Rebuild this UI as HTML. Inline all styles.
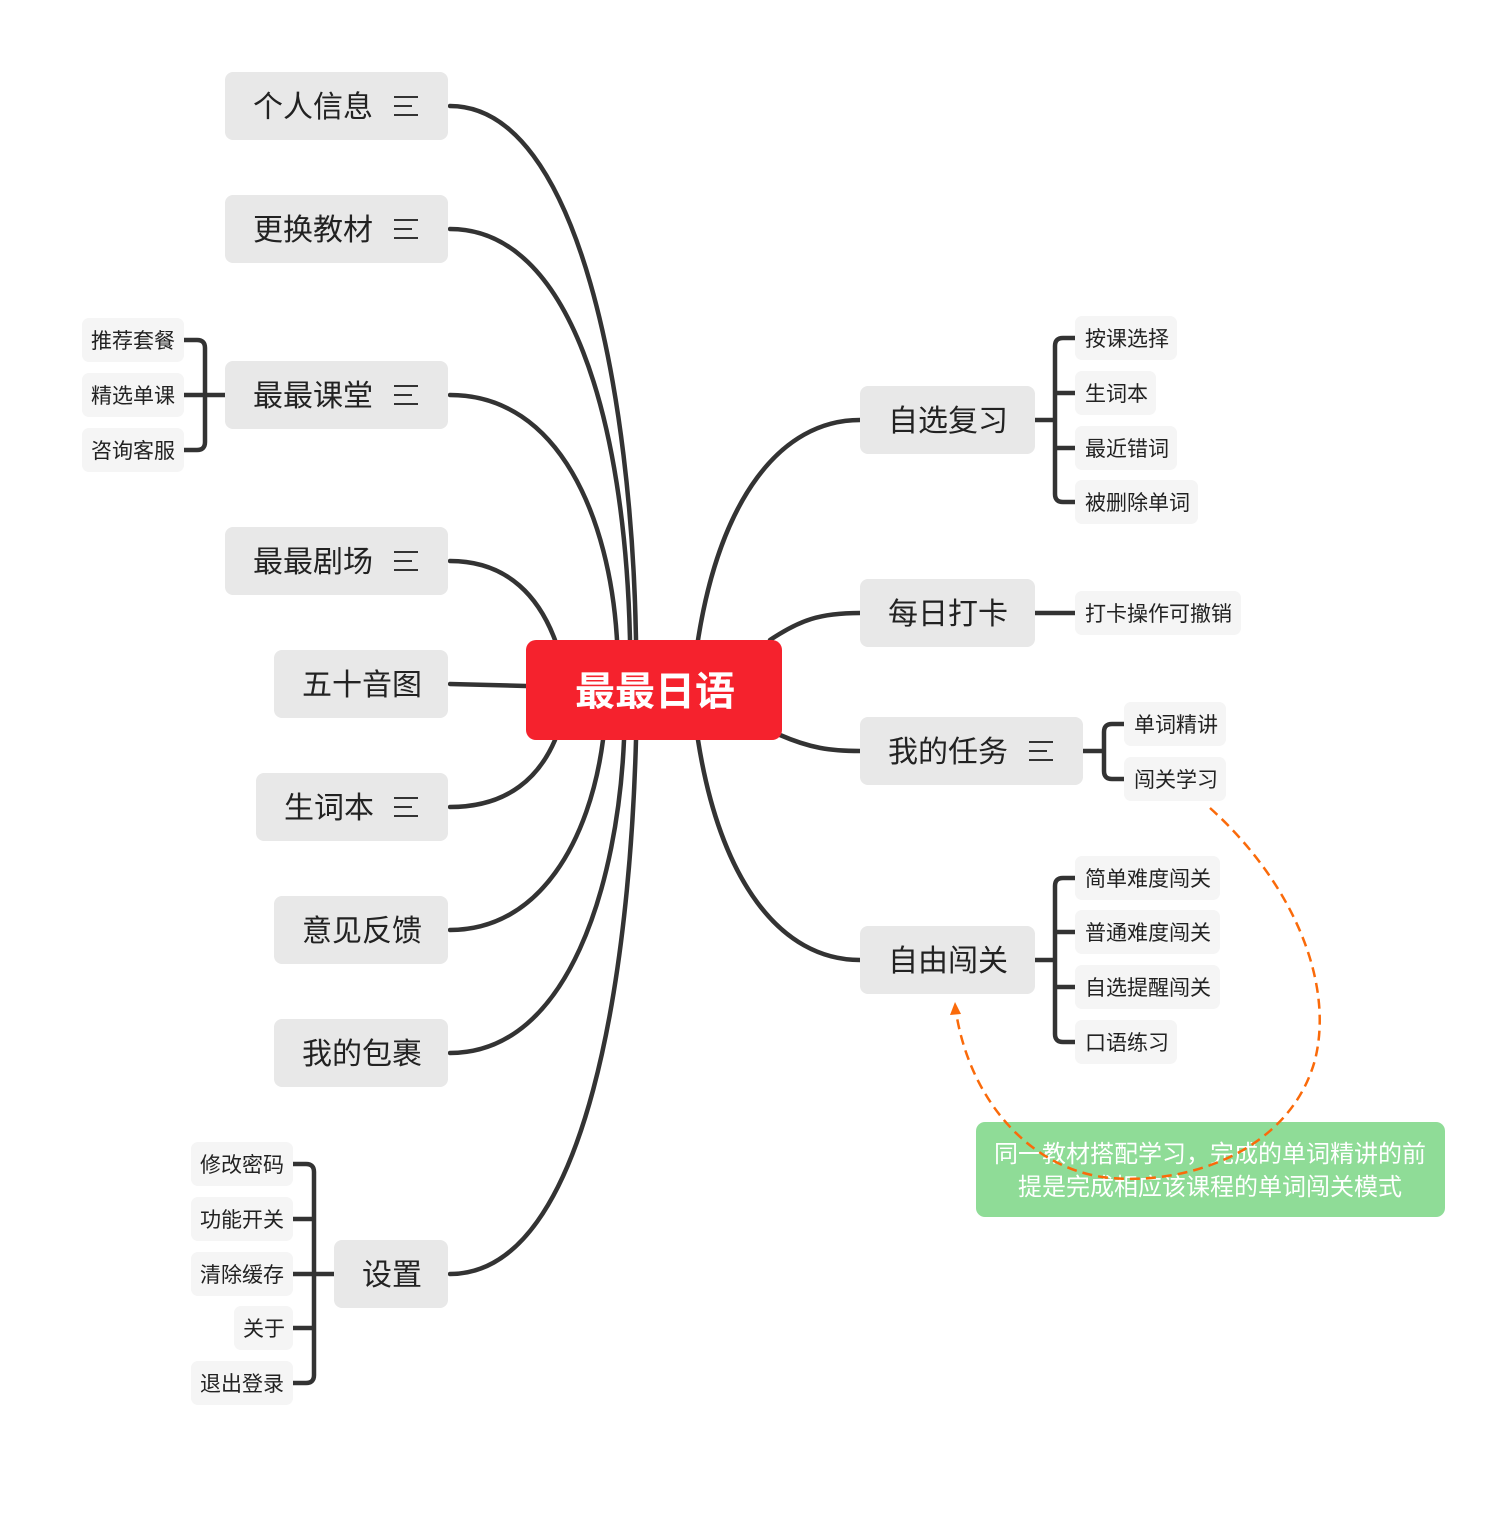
<!DOCTYPE html>
<html><head><meta charset="utf-8"><style>
html,body{margin:0;padding:0;background:#fff;}
svg text{font-family:"Liberation Sans","Noto Sans CJK SC",sans-serif;}
</style></head><body>
<svg width="1498" height="1510" viewBox="0 0 1498 1510" xmlns="http://www.w3.org/2000/svg">
<g fill="none" stroke="#333" stroke-width="4.5" stroke-linecap="round">
<path d="M450,106 C580,106 632,400 636,640"/>
<path d="M450,229 C570,229 625,420 630,640"/>
<path d="M450,395 C560,395 610,520 617,640"/>
<path d="M450,561 C510,561 540,600 555,640"/>
<path d="M450,684 L526,686"/>
<path d="M450,807 C510,807 540,775 555,740"/>
<path d="M450,930 C540,930 590,840 603,740"/>
<path d="M450,1053 C570,1053 618,880 624,740"/>
<path d="M450,1274 C590,1274 630,960 636,740"/>
<path d="M698,640 C720,500 780,420 860,420"/>
<path d="M770,640 C800,620 820,613 860,613"/>
<path d="M780,735 C810,748 830,751 860,751"/>
<path d="M698,740 C720,880 780,960 860,960"/>
<path d="M1035,420 L1055,420 M1075,338 L1063,338 Q1055,338 1055,346 L1055,494 Q1055,502 1063,502 L1075,502 M1055,393 L1075,393 M1055,448 L1075,448"/>
<path d="M1035,613 L1075,613"/>
<path d="M1083,751 L1104,751 M1124,724 L1112,724 Q1104,724 1104,732 L1104,771 Q1104,779 1112,779 L1124,779"/>
<path d="M1035,960 L1055,960 M1075,878 L1063,878 Q1055,878 1055,886 L1055,1034 Q1055,1042 1063,1042 L1075,1042 M1055,932 L1075,932 M1055,987 L1075,987"/>
<path d="M225,395 L205,395 M184,340 L197,340 Q205,340 205,348 L205,442 Q205,450 197,450 L184,450 M205,395 L184,395"/>
<path d="M334,1274 L314,1274 M293,1164 L306,1164 Q314,1164 314,1172 L314,1375 Q314,1383 306,1383 L293,1383 M314,1219 L293,1219 M314,1274 L293,1274 M314,1328 L293,1328"/>
</g>
<rect x="526" y="640" width="256" height="100" rx="10" fill="#f5222d"/>
<text x="655" y="705" font-size="40" font-weight="bold" fill="#fff" text-anchor="middle">最最日语</text>
<g fill="#e8e8e8">
<rect x="225" y="72" width="223" height="68" rx="8"/>
<rect x="225" y="195" width="223" height="68" rx="8"/>
<rect x="225" y="361" width="223" height="68" rx="8"/>
<rect x="225" y="527" width="223" height="68" rx="8"/>
<rect x="274" y="650" width="174" height="68" rx="8"/>
<rect x="256" y="773" width="192" height="68" rx="8"/>
<rect x="274" y="896" width="174" height="68" rx="8"/>
<rect x="274" y="1019" width="174" height="68" rx="8"/>
<rect x="334" y="1240" width="114" height="68" rx="8"/>
<rect x="860" y="386" width="175" height="68" rx="8"/>
<rect x="860" y="579" width="175" height="68" rx="8"/>
<rect x="860" y="717" width="223" height="68" rx="8"/>
<rect x="860" y="926" width="175" height="68" rx="8"/>
</g>
<g font-size="30" fill="#222">
<text x="253" y="117">个人信息</text>
<text x="253" y="240">更换教材</text>
<text x="253" y="406">最最课堂</text>
<text x="253" y="572">最最剧场</text>
<text x="302" y="695">五十音图</text>
<text x="284" y="818">生词本</text>
<text x="302" y="941">意见反馈</text>
<text x="302" y="1064">我的包裹</text>
<text x="362" y="1285">设置</text>
<text x="888" y="431">自选复习</text>
<text x="888" y="624">每日打卡</text>
<text x="888" y="762">我的任务</text>
<text x="888" y="971">自由闯关</text>
</g>
<g stroke="#333" stroke-width="2">
<path d="M394,97 H418 M394,106 H412 M394,115 H418"/>
<path d="M394,220 H418 M394,229 H412 M394,238 H418"/>
<path d="M394,386 H418 M394,395 H412 M394,404 H418"/>
<path d="M394,552 H418 M394,561 H412 M394,570 H418"/>
<path d="M394,798 H418 M394,807 H412 M394,816 H418"/>
<path d="M1029,742 H1053 M1029,751 H1047 M1029,760 H1053"/>
</g>
<g fill="#f5f5f5">
<rect x="82" y="318" width="102" height="44" rx="7"/>
<rect x="82" y="373" width="102" height="44" rx="7"/>
<rect x="82" y="428" width="102" height="44" rx="7"/>
<rect x="191" y="1142" width="102" height="44" rx="7"/>
<rect x="191" y="1197" width="102" height="44" rx="7"/>
<rect x="191" y="1252" width="102" height="44" rx="7"/>
<rect x="234" y="1306" width="59" height="44" rx="7"/>
<rect x="191" y="1361" width="102" height="44" rx="7"/>
<rect x="1075" y="316" width="102" height="44" rx="7"/>
<rect x="1075" y="371" width="81" height="44" rx="7"/>
<rect x="1075" y="426" width="102" height="44" rx="7"/>
<rect x="1075" y="480" width="123" height="44" rx="7"/>
<rect x="1075" y="591" width="166" height="44" rx="7"/>
<rect x="1124" y="702" width="102" height="44" rx="7"/>
<rect x="1124" y="757" width="102" height="44" rx="7"/>
<rect x="1075" y="856" width="145" height="44" rx="7"/>
<rect x="1075" y="910" width="145" height="44" rx="7"/>
<rect x="1075" y="965" width="145" height="44" rx="7"/>
<rect x="1075" y="1020" width="102" height="44" rx="7"/>
</g>
<g font-size="21" fill="#222">
<text x="91" y="348">推荐套餐</text>
<text x="91" y="403">精选单课</text>
<text x="91" y="458">咨询客服</text>
<text x="200" y="1172">修改密码</text>
<text x="200" y="1227">功能开关</text>
<text x="200" y="1282">清除缓存</text>
<text x="243" y="1336">关于</text>
<text x="200" y="1391">退出登录</text>
<text x="1085" y="346">按课选择</text>
<text x="1085" y="401">生词本</text>
<text x="1085" y="456">最近错词</text>
<text x="1085" y="510">被删除单词</text>
<text x="1085" y="621">打卡操作可撤销</text>
<text x="1134" y="732">单词精讲</text>
<text x="1134" y="787">闯关学习</text>
<text x="1085" y="886">简单难度闯关</text>
<text x="1085" y="940">普通难度闯关</text>
<text x="1085" y="995">自选提醒闯关</text>
<text x="1085" y="1050">口语练习</text>
</g>
<rect x="976" y="1122" width="469" height="95" rx="9" fill="#8fdc97"/>
<g font-size="24" fill="#fff" text-anchor="middle">
<text x="1210" y="1162">同一教材搭配学习，完成的单词精讲的前</text>
<text x="1210" y="1195">提是完成相应该课程的单词闯关模式</text>
</g>
<path d="M1210,808 C1290,880 1335,980 1315,1060 C1290,1150 1190,1185 1110,1178 C1030,1170 970,1100 956,1012" fill="none" stroke="#fa6a0a" stroke-width="2.5" stroke-dasharray="10,6"/>
<path d="M955,1002 L950,1015 L961,1014 Z" fill="#fa6a0a"/>
</svg>
</body></html>
